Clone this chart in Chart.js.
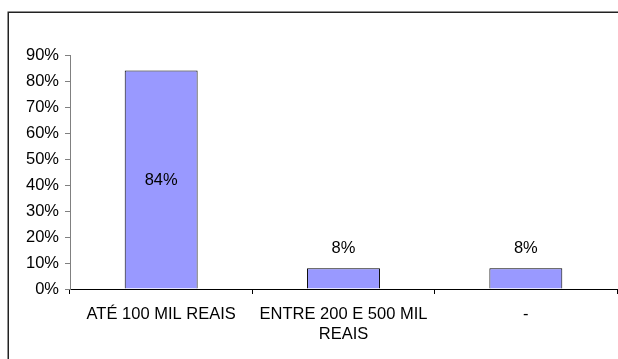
<!DOCTYPE html>
<html>
<head>
<meta charset="utf-8">
<script src="https://cdn.jsdelivr.net/npm/chart.js@4/dist/chart.umd.min.js"></script>
<style>
  html, body { margin: 0; padding: 0; background: #fff; }
  #wrap { width: 618px; height: 359px; position: relative; }
</style>
</head>
<body>
<div id="wrap"><canvas id="c" width="618" height="359"></canvas></div>
<script>
// Faixas de faturamento e participação (%)
const categories = [
  'ATÉ 100 MIL REAIS',
  ['ENTRE 200 E 500 MIL', 'REAIS'],
  '-'
];
const values = [84, 8, 8];
const yTicks = [0, 10, 20, 30, 40, 50, 60, 70, 80, 90];

const FONT = 'Arial, "Liberation Sans", sans-serif';
const FONT_SIZE = 16.5;

// Rótulos de valor: dentro da barra quando alta, acima quando baixa
const valueLabels = {
  id: 'valueLabels',
  afterDatasetsDraw(chart) {
    const ctx = chart.ctx;
    const meta = chart.getDatasetMeta(0);
    const y = chart.scales.y;
    ctx.save();
    ctx.font = FONT_SIZE + 'px ' + FONT;
    ctx.fillStyle = '#000';
    ctx.textAlign = 'center';
    ctx.textBaseline = 'middle';
    meta.data.forEach((bar, i) => {
      const v = values[i];
      const top = y.getPixelForValue(v);
      const base = y.getPixelForValue(0);
      const ty = v > 40 ? (top + base) / 2 + 1 : top - 20;
      ctx.fillText(v + '%', bar.x, ty);
    });
    ctx.restore();
  }
};

// Moldura do gráfico (bordas superior e esquerda)
const frame = {
  id: 'frame',
  afterDraw(chart) {
    const ctx = chart.ctx;
    ctx.save();
    ctx.strokeStyle = '#222';
    ctx.lineWidth = 1.5;
    ctx.beginPath();
    ctx.moveTo(8.25, chart.height);
    ctx.lineTo(8.25, 12.25);
    ctx.lineTo(chart.width, 12.25);
    ctx.stroke();
    ctx.restore();
  }
};

new Chart(document.getElementById('c'), {
  type: 'bar',
  data: {
    labels: categories,
    datasets: [{
      data: values,
      backgroundColor: '#9999FF',
      borderColor: '#000',
      borderWidth: 1,
      categoryPercentage: 1,
      barPercentage: 0.4
    }]
  },
  options: {
    responsive: false,
    animation: false,
    devicePixelRatio: 1,
    layout: { padding: { left: 0, top: 55, right: 1, bottom: 0 } },
    plugins: { legend: { display: false }, tooltip: { enabled: false } },
    scales: {
      x: {
        offset: true,
        grid: { display: true, drawOnChartArea: false, tickLength: 5, color: '#000', offset: true },
        border: { color: '#000', width: 1 },
        ticks: {
          color: '#000',
          font: { size: FONT_SIZE, family: FONT, lineHeight: 1.25 },
          padding: 10,
          maxRotation: 0,
          autoSkip: false
        },
        afterFit(s) { s.height = 70; }
      },
      y: {
        min: 0,
        max: 90,
        afterBuildTicks(s) { s.ticks = yTicks.map(v => ({ value: v })); },
        grid: { display: true, drawOnChartArea: false, tickLength: 5, color: '#808080' },
        border: { color: '#808080', width: 1 },
        ticks: {
          color: '#000',
          font: { size: FONT_SIZE, family: FONT },
          padding: 6,
          callback: v => v + '%'
        },
        afterFit(s) { s.width = 70; }
      }
    }
  },
  plugins: [valueLabels, frame]
});
</script>
</body>
</html>
